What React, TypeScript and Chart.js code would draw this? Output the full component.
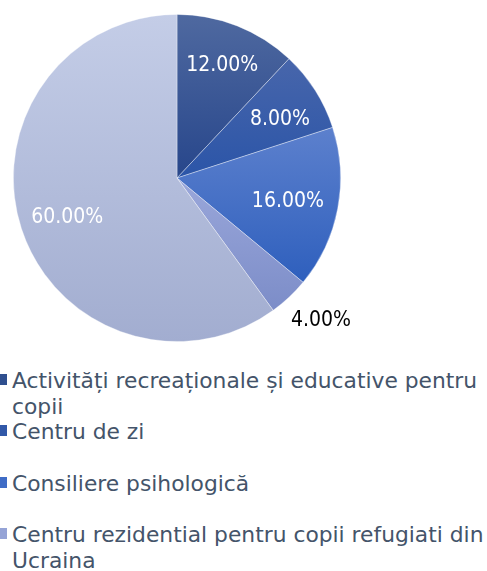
import React, { useEffect, useRef } from "react";
import { Chart, registerables } from "chart.js";

Chart.register(...registerables);

const categories = [
  "Activități recreaționale și educative pentru copii",
  "Centru de zi",
  "Consiliere psihologică",
  "Centru rezidential pentru copii refugiati din Ucraina",
  "",
];
const values = [12, 8, 16, 4, 60];
const valueLabels = ["12.00%", "8.00%", "16.00%", "4.00%", "60.00%"];

const gradTop = ["#4f69a0", "#4866ab", "#5c80cd", "#9aa7da", "#c4cde7"];
const gradBottom = ["#27468b", "#2b55a8", "#2e5fbd", "#7a8bc7", "#a2add0"];
const gradRange: [number, number][] = [
  [0, 0.5],
  [0.13, 0.5],
  [0.35, 0.82],
  [0.5, 0.93],
  [0, 1],
];
const labelRadius = [0.75, 0.73, 0.69, 1.23, 0.71];
const labelShiftDeg = [0, 2, 0, -2.5, -1];
const labelColor = ["#ffffff", "#ffffff", "#ffffff", "#000000", "#ffffff"];
const legendColor = ["#2f4f8f", "#3158a8", "#3f6cc6", "#95a3d6"];

const LABEL_FONT = "'DejaVu Sans Condensed', 'DejaVu Sans', sans-serif";
const LEGEND_FONT = "'DejaVu Sans', sans-serif";

const labelPlugin = {
  id: "sliceLabels",
  afterDatasetsDraw(chart: any) {
    const meta = chart.getDatasetMeta(0);
    const ctx = chart.ctx;
    ctx.save();
    ctx.font = `21px ${LABEL_FONT}`;
    ctx.textAlign = "center";
    ctx.textBaseline = "middle";
    meta.data.forEach((arc: any, i: number) => {
      const p = arc.getProps(["x", "y", "startAngle", "endAngle", "outerRadius"], true);
      const mid = (p.startAngle + p.endAngle) / 2 + (labelShiftDeg[i] * Math.PI) / 180;
      const r = p.outerRadius * labelRadius[i];
      ctx.fillStyle = labelColor[i];
      ctx.fillText(valueLabels[i], p.x + Math.cos(mid) * r, p.y + Math.sin(mid) * r + 2);
    });
    ctx.restore();
  },
};

export default function App() {
  const ref = useRef<HTMLCanvasElement>(null);
  useEffect(() => {
    if (!ref.current) return;
    const chart = new Chart(ref.current, {
      type: "pie",
      data: {
        labels: categories,
        datasets: [
          {
            data: values,
            backgroundColor: (c: any) => {
              const chart = c.chart;
              const area = chart.chartArea;
              const i = c.dataIndex;
              if (!area || i === undefined) return gradTop[i ?? 0];
              const h = area.bottom - area.top;
              const g = chart.ctx.createLinearGradient(
                0,
                area.top + gradRange[i][0] * h,
                0,
                area.top + gradRange[i][1] * h
              );
              g.addColorStop(0, gradTop[i]);
              g.addColorStop(1, gradBottom[i]);
              return g;
            },
            borderColor: "rgba(255,255,255,0.45)",
            borderWidth: 0.8,
          },
        ],
      },
      options: {
        responsive: false,
        animation: false,
        layout: { padding: { top: 14, bottom: 14, left: 13, right: 13 } },
        plugins: {
          legend: { display: false },
          tooltip: { enabled: false },
        },
      },
      plugins: [labelPlugin],
    });
    return () => chart.destroy();
  }, []);

  return (
    <div style={{ position: "relative", width: 487, height: 571, overflow: "hidden" }}>
      <style>{`body{margin:0}`}</style>
      <canvas ref={ref} width={354} height={356} style={{ position: "absolute", left: 0, top: 0 }} />
      <div
        style={{
          position: "absolute",
          left: 0,
          top: 368,
          width: 487,
          fontFamily: LEGEND_FONT,
          fontSize: 21.8,
          lineHeight: "25.7px",
          color: "#44546a",
        }}
      >
        {categories
          .map((c, i) => ({ c, i }))
          .filter((o) => o.c !== "")
          .map(({ c, i }) => (
            <div key={i} style={{ position: "relative", height: 51.4 }}>
              <div
                style={{
                  position: "absolute",
                  left: 0,
                  top: 6,
                  width: 7,
                  height: 11,
                  background: legendColor[i],
                }}
              />
              <div style={{ position: "absolute", left: 12, top: 0, width: 475 }}>{c}</div>
            </div>
          ))}
      </div>
    </div>
  );
}
